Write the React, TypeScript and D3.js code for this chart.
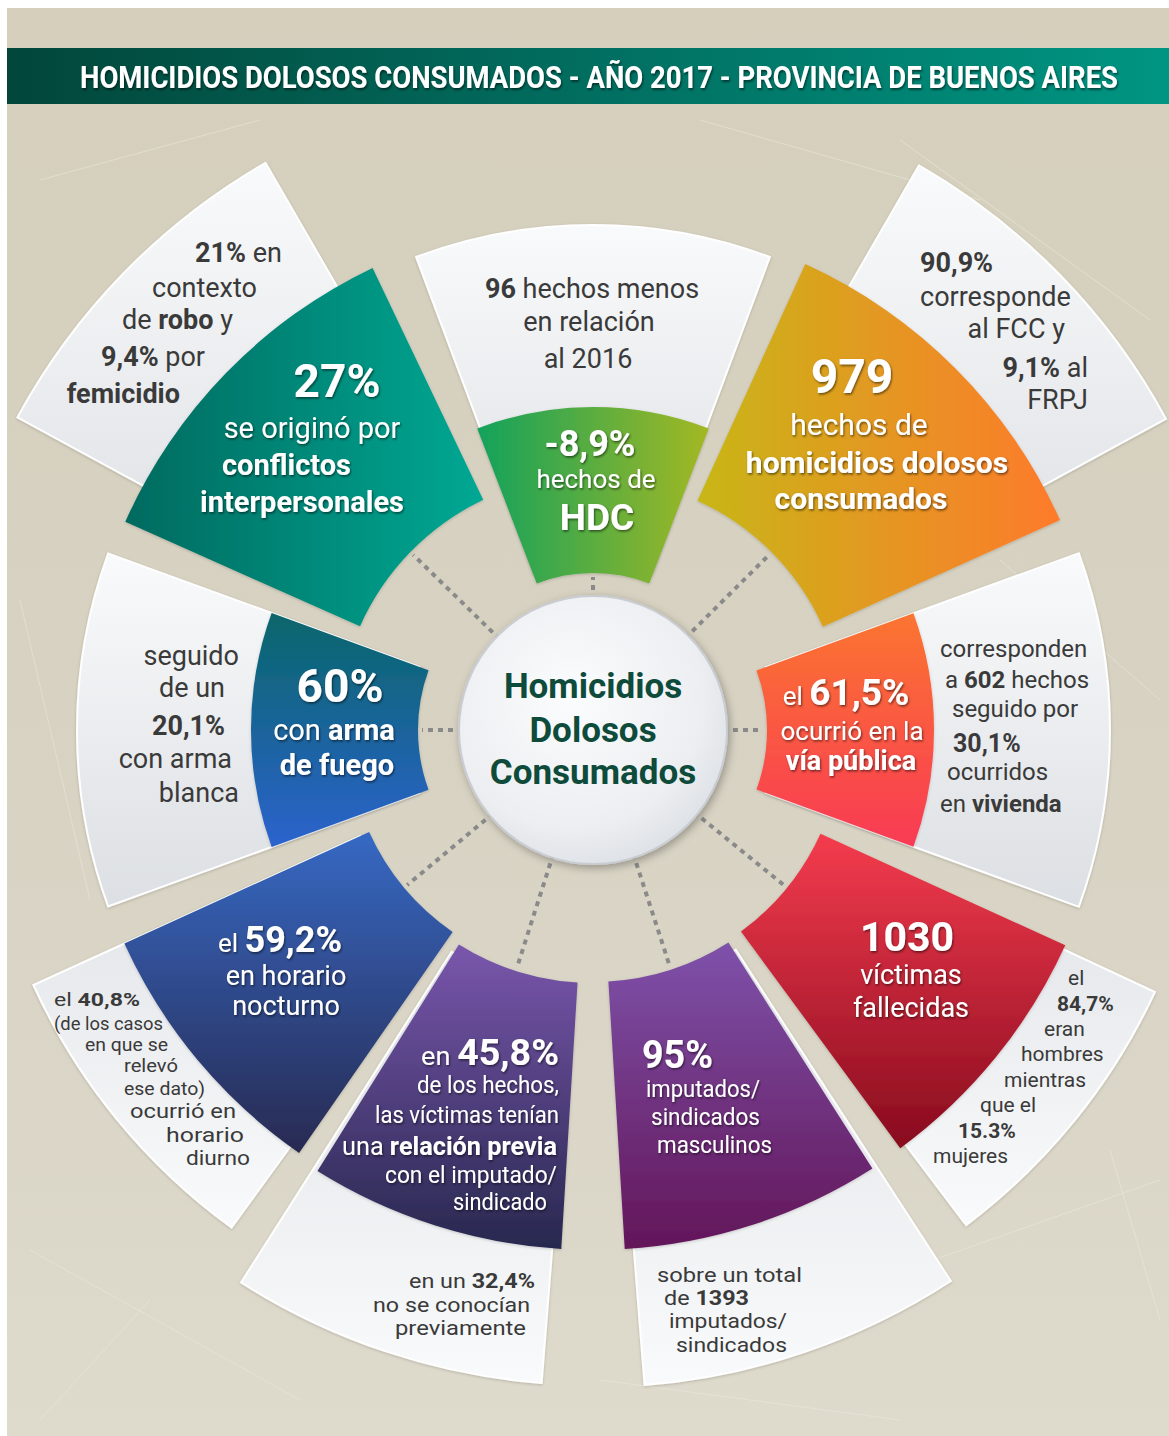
import React from "react";
import * as d3 from "d3";

const W = 1169;
const H = 1436;
const CX = 593;
const CY = 730;

// ---------- content ----------
const TITLE = "HOMICIDIOS DOLOSOS CONSUMADOS - AÑO 2017 - PROVINCIA DE BUENOS AIRES";
const CENTER_LINES = ["Homicidios", "Dolosos", "Consumados"];

type Seg = [string, boolean?, number?];
type Line = Seg[];

const HDC_MAIN: Line[] = [[["-8,9%", true]], [["hechos de"]], [["HDC", true]]];
const HDC_NOTE: Line[] = [[["96", true], [" hechos menos"]], [["en relación"]], [["al 2016"]]];

const TOTAL_MAIN: Line[] = [[["979", true]], [["hechos de"]], [["homicidios dolosos", true]], [["consumados", true]]];
const TOTAL_NOTE: Line[] = [[["90,9%", true]], [["corresponde"]], [["al FCC y"]], [["9,1%", true], [" al"]], [["FRPJ"]]];

const VIA_MAIN: Line[] = [[["el", false, 26], [" "], ["61,5%", true, 37]], [["ocurrió en la"]], [["vía pública", true]]];
const VIA_NOTE: Line[] = [[["corresponden"]], [["a "], ["602", true], [" hechos"]], [["seguido por"]], [["30,1%", true]], [["ocurridos"]], [["en "], ["vivienda", true]]];

const VICTIMAS_MAIN: Line[] = [[["1030", true]], [["víctimas"]], [["fallecidas"]]];
const VICTIMAS_NOTE: Line[] = [[["el"]], [["84,7%", true]], [["eran"]], [["hombres"]], [["mientras"]], [["que el"]], [["15.3%", true]], [["mujeres"]]];

const IMPUTADOS_MAIN: Line[] = [[["95%", true]], [["imputados/"]], [["sindicados"]], [["masculinos"]]];
const IMPUTADOS_NOTE: Line[] = [[["sobre un total"]], [["de "], ["1393", true]], [["imputados/"]], [["sindicados"]]];

const RELACION_MAIN: Line[] = [[["en ", false, 26], ["45,8%", true, 36]], [["de los hechos,"]], [["las víctimas tenían"]], [["una "], ["relación previa", true]], [["con el imputado/"]], [["sindicado"]]];
const RELACION_NOTE: Line[] = [[["en un "], ["32,4%", true]], [["no se conocían"]], [["previamente"]]];

const HORARIO_MAIN: Line[] = [[["el", false, 26], [" "], ["59,2%", true, 36]], [["en horario"]], [["nocturno"]]];
const HORARIO_NOTE: Line[] = [[["el "], ["40,8%", true]], [["(de los casos"]], [["en que se"]], [["relevó"]], [["ese dato)"]], [["ocurrió en"]], [["horario"]], [["diurno"]]];

const ARMA_MAIN: Line[] = [[["60%", true]], [["con "], ["arma", true]], [["de fuego", true]]];
const ARMA_NOTE: Line[] = [[["seguido"]], [["de un"]], [["20,1%", true]], [["con arma"]], [["blanca"]]];

const CONFLICTOS_MAIN: Line[] = [[["27%", true]], [["se originó por"]], [["conflictos", true]], [["interpersonales", true]]];
const CONFLICTOS_NOTE: Line[] = [[["21%", true], [" en"]], [["contexto"]], [["de "], ["robo", true], [" y"]], [["9,4%", true], [" por"]], [["femicidio", true]]];

// ---------- layout ----------
type Geo = { a0: number; a1: number; r0: number; r1: number; wa0: number; wa1: number; wr: number; c0: string; c1: string; horiz: boolean };
const GEOMS: Geo[] = [
  { a0: -21, a1: 21, r0: 157, r1: 323, wa0: -20.5, wa1: 20.5, wr: 505, c0: "#13a25c", c1: "#a3b823", horiz: true },
  { a0: 24.5, a1: 65.8, r0: 252, r1: 512, wa0: 30, wa1: 61.5, wr: 652, c0: "#c8b617", c1: "#fe7a2c", horiz: true },
  { a0: 70, a1: 110, r0: 174, r1: 341, wa0: 70, wa1: 110, wr: 517, c0: "#fb7530", c1: "#f93a55", horiz: false },
  { a0: 114.5, a1: 143.7, r0: 250, r1: 519, wa0: 115, wa1: 143, wr: 620, c0: "#f43c4e", c1: "#880b1e", horiz: false },
  { a0: 147.5, a1: 176.5, r0: 252, r1: 520, wa0: 147, wa1: 175.5, wr: 657, c0: "#7e52aa", c1: "#631659", horiz: false },
  { a0: 183.5, a1: 212, r0: 253, r1: 520, wa0: 184.5, wa1: 212.5, wr: 655, c0: "#7a56ac", c1: "#27284f", horiz: false },
  { a0: 214.8, a1: 245.5, r0: 246, r1: 515, wa0: 216, wa1: 245.5, wr: 615, c0: "#3669c3", c1: "#282a52", horiz: false },
  { a0: 250, a1: 290, r0: 175, r1: 342, wa0: 250, wa1: 290, wr: 516, c0: "#08666a", c1: "#2c63cd", horiz: false },
  { a0: 294, a1: 334.5, r0: 255, r1: 512, wa0: 298.5, wa1: 330, wr: 655, c0: "#006a5f", c1: "#00a893", horiz: true },
];

// [x, baseline, anchor, fontSize, textLength?]
type LL = [number, number, "start" | "middle" | "end", number, number?];
const L_HDC_MAIN: LL[] = [[590, 456, "middle", 36], [596, 488, "middle", 26], [597, 530, "middle", 37]];
const L_HDC_NOTE: LL[] = [[592, 298, "middle", 27], [589, 331, "middle", 27], [588, 368, "middle", 27]];
const L_TOTAL_MAIN: LL[] = [[852, 393, "middle", 48], [859, 435, "middle", 30], [877, 473, "middle", 30], [861, 509, "middle", 30]];
const L_TOTAL_NOTE: LL[] = [[920, 272, "start", 27], [920, 306, "start", 27], [1065, 338, "end", 27], [1088, 377, "end", 27], [1088, 409, "end", 27]];
const L_VIA_MAIN: LL[] = [[846, 705, "middle", 26], [852, 740, "middle", 26], [851, 770, "middle", 27]];
const L_VIA_NOTE: LL[] = [[940, 657, "start", 24], [945, 688, "start", 24], [952, 717, "start", 24], [953, 752, "start", 25], [947, 780, "start", 24], [940, 812, "start", 24]];
const L_VICTIMAS_MAIN: LL[] = [[907, 951, "middle", 41], [911, 984, "middle", 27], [911, 1017, "middle", 27]];
const L_VICTIMAS_NOTE: LL[] = [[1068, 985, "start", 21], [1057, 1011, "start", 21], [1044, 1036, "start", 21], [1021, 1061, "start", 21], [1004, 1087, "start", 21], [980, 1112, "start", 21], [958, 1138, "start", 21], [933, 1163, "start", 21]];
const L_IMPUTADOS_MAIN: LL[] = [[642, 1068, "start", 38, 71], [646, 1097, "start", 24, 114], [651, 1125, "start", 24, 109], [657, 1153, "start", 24, 115]];
const L_IMPUTADOS_NOTE: LL[] = [[657, 1282, "start", 21, 145], [664, 1305, "start", 21, 85], [669, 1328, "start", 21, 118], [676, 1352, "start", 21, 111]];
const L_RELACION_MAIN: LL[] = [[421, 1065, "start", 26, 138], [417, 1093, "start", 24, 142], [375, 1123, "start", 24, 184], [342, 1155, "start", 25, 215], [385, 1183, "start", 24, 172], [453, 1210, "start", 24, 94]];
const L_RELACION_NOTE: LL[] = [[409, 1288, "start", 21, 126], [373, 1312, "start", 21, 157], [395, 1335, "start", 21, 131]];
const L_HORARIO_MAIN: LL[] = [[280, 952, "middle", 26], [286, 985, "middle", 27], [286, 1015, "middle", 27]];
const L_HORARIO_NOTE: LL[] = [[54, 1006, "start", 19, 86], [54, 1030, "start", 18, 109], [85, 1051, "start", 18, 83], [124, 1072, "start", 18, 54], [124, 1095, "start", 18, 81], [130, 1118, "start", 21, 106], [166, 1142, "start", 21, 78], [186, 1165, "start", 21, 64]];
const L_ARMA_MAIN: LL[] = [[340, 702, "middle", 46], [334, 740, "middle", 29], [337, 775, "middle", 29]];
const L_ARMA_NOTE: LL[] = [[239, 665, "end", 27], [225, 697, "end", 27], [225, 735, "end", 27], [232, 768, "end", 27], [239, 802, "end", 27]];
const L_CONFLICTOS_MAIN: LL[] = [[337, 397, "middle", 46], [312, 438, "middle", 29], [222, 475, "start", 29], [302, 512, "middle", 29]];
const L_CONFLICTOS_NOTE: LL[] = [[282, 262, "end", 27], [257, 297, "end", 27], [233, 329, "end", 27], [205, 366, "end", 27], [180, 403, "end", 27]];

const BLOCKS: { lines: Line[]; layout: LL[]; white: boolean }[] = [
  { lines: HDC_MAIN, layout: L_HDC_MAIN, white: true },
  { lines: HDC_NOTE, layout: L_HDC_NOTE, white: false },
  { lines: TOTAL_MAIN, layout: L_TOTAL_MAIN, white: true },
  { lines: TOTAL_NOTE, layout: L_TOTAL_NOTE, white: false },
  { lines: VIA_MAIN, layout: L_VIA_MAIN, white: true },
  { lines: VIA_NOTE, layout: L_VIA_NOTE, white: false },
  { lines: VICTIMAS_MAIN, layout: L_VICTIMAS_MAIN, white: true },
  { lines: VICTIMAS_NOTE, layout: L_VICTIMAS_NOTE, white: false },
  { lines: IMPUTADOS_MAIN, layout: L_IMPUTADOS_MAIN, white: true },
  { lines: IMPUTADOS_NOTE, layout: L_IMPUTADOS_NOTE, white: false },
  { lines: RELACION_MAIN, layout: L_RELACION_MAIN, white: true },
  { lines: RELACION_NOTE, layout: L_RELACION_NOTE, white: false },
  { lines: HORARIO_MAIN, layout: L_HORARIO_MAIN, white: true },
  { lines: HORARIO_NOTE, layout: L_HORARIO_NOTE, white: false },
  { lines: ARMA_MAIN, layout: L_ARMA_MAIN, white: true },
  { lines: ARMA_NOTE, layout: L_ARMA_NOTE, white: false },
  { lines: CONFLICTOS_MAIN, layout: L_CONFLICTOS_MAIN, white: true },
  { lines: CONFLICTOS_NOTE, layout: L_CONFLICTOS_NOTE, white: false },
];

const SCRATCHES: [number, number, number, number][] = [
  [40, 180, 260, 120], [900, 140, 1150, 320], [30, 1250, 300, 1400], [820, 1300, 1160, 1180],
  [1000, 560, 1160, 700], [20, 600, 90, 900], [600, 1380, 900, 1420], [150, 1300, 40, 1420],
  [700, 120, 980, 200], [1110, 1150, 1160, 1320],
];

const FONT = "Roboto, 'Noto Sans', sans-serif";
const rad = (deg: number) => (deg * Math.PI) / 180;

const arc = d3
  .arc<{ a0: number; a1: number; r0: number; r1: number }>()
  .innerRadius((d) => d.r0)
  .outerRadius((d) => d.r1)
  .startAngle((d) => rad(d.a0))
  .endAngle((d) => rad(d.a1));

function TextBlock({ lines, layout, white }: { lines: Line[]; layout: LL[]; white: boolean }) {
  return (
    <g fill={white ? "#ffffff" : "#3a3a3a"} filter={white ? "url(#tshadow)" : undefined}>
      {lines.map((segs, i) => {
        const [x, y, anchor, size, len] = layout[i];
        return (
          <text
            key={i}
            x={x}
            y={y}
            textAnchor={anchor}
            fontSize={size}
            fontFamily={FONT}
            style={{ whiteSpace: "pre" }}
            textLength={len}
            lengthAdjust={len ? "spacingAndGlyphs" : undefined}
          >
            {segs.map((s, j) => (
              <tspan key={j} fontWeight={s[1] ? 700 : 400} fontSize={s[2]}>
                {s[0]}
              </tspan>
            ))}
          </text>
        );
      })}
    </g>
  );
}

export default function App() {
  const rings = d3.range(GEOMS.length);
  return (
    <svg
      width={W}
      height={H}
      viewBox={`0 0 ${W} ${H}`}
      style={{ position: "absolute", left: 0, top: 0, display: "block" }}
    >
      <defs>
        <linearGradient id="bg" x1="0" y1="0" x2="0" y2="1">
          <stop offset="0" stopColor="#d5cfbc" />
          <stop offset="0.5" stopColor="#d7d2c2" />
          <stop offset="1" stopColor="#dedacc" />
        </linearGradient>
        <linearGradient id="titlebar" x1="0" y1="0" x2="1" y2="0">
          <stop offset="0" stopColor="#02463a" />
          <stop offset="0.5" stopColor="#016e60" />
          <stop offset="1" stopColor="#009582" />
        </linearGradient>
        <linearGradient id="wTop" x1="0" y1="0" x2="0" y2="1">
          <stop offset="0" stopColor="#f9fafb" />
          <stop offset="1" stopColor="#dcdfe3" />
        </linearGradient>
        <linearGradient id="wBot" x1="0" y1="0" x2="0" y2="1">
          <stop offset="0" stopColor="#dfe2e6" />
          <stop offset="1" stopColor="#f9fafb" />
        </linearGradient>
        {GEOMS.map((g, i) => (
          <linearGradient key={i} id={`cg${i}`} x1="0" y1="0" x2={g.horiz ? 1 : 0} y2={g.horiz ? 0 : 1}>
            <stop offset="0" stopColor={g.c0} />
            <stop offset="1" stopColor={g.c1} />
          </linearGradient>
        ))}
        <radialGradient id="circ" cx="0.42" cy="0.38" r="0.7">
          <stop offset="0" stopColor="#fbfcfd" />
          <stop offset="0.7" stopColor="#eceef1" />
          <stop offset="1" stopColor="#d9dde2" />
        </radialGradient>
        <filter id="tshadow" x="-10%" y="-20%" width="120%" height="150%">
          <feDropShadow dx="1" dy="1.5" stdDeviation="1" floodColor="#000" floodOpacity="0.55" />
        </filter>
        <filter id="csh" x="-20%" y="-20%" width="140%" height="140%">
          <feDropShadow dx="2" dy="3" stdDeviation="4" floodColor="#000" floodOpacity="0.3" />
        </filter>
        <filter id="psh" x="-10%" y="-10%" width="120%" height="120%">
          <feDropShadow dx="0" dy="1" stdDeviation="1.5" floodColor="#000" floodOpacity="0.18" />
        </filter>
      </defs>

      <rect x={0} y={0} width={W} height={H} fill="#ffffff" />
      <rect x={7} y={8} width={W - 7} height={H - 8} fill="url(#bg)" />
      <g stroke="#ebe7db" strokeWidth={1} opacity={0.6} fill="none">
        {SCRATCHES.map((s, i) => (
          <line key={i} x1={s[0]} y1={s[1]} x2={s[2]} y2={s[3]} />
        ))}
      </g>

      <rect x={7} y={48} width={W - 7} height={56} fill="url(#titlebar)" />
      <text
        transform="translate(80,88) scale(1,1.24)"
        x={0}
        y={0}
        fontFamily={FONT}
        fontWeight={700}
        fontSize={25}
        fill="#ffffff"
        filter="url(#tshadow)"
        textLength={1038}
        lengthAdjust="spacingAndGlyphs"
      >
        {TITLE}
      </text>

      <g transform={`translate(${CX},${CY})`}>
        {/* dashed connectors */}
        <g stroke="#8a8a8a" strokeWidth={4} strokeDasharray="5 5" fill="none">
          {rings.map((i) => {
            const g = GEOMS[i];
            const a = rad((g.a0 + g.a1) / 2);
            const rEnd = g.r0 - 4;
            return <line key={i} x1={Math.sin(a) * 120} y1={-Math.cos(a) * 120} x2={Math.sin(a) * rEnd} y2={-Math.cos(a) * rEnd} />;
          })}
        </g>
        {/* white panels */}
        {rings.map((i) => {
          const g = GEOMS[i];
          const mid = (g.wa0 + g.wa1) / 2;
          const lower = Math.cos(rad(mid)) < -0.3;
          return (
            <path
              key={`w${i}`}
              d={arc({ a0: g.wa0, a1: g.wa1, r0: g.r0 + 10, r1: g.wr }) || ""}
              fill={lower ? "url(#wBot)" : "url(#wTop)"}
              stroke="#ffffff"
              strokeWidth={2}
              filter="url(#psh)"
            />
          );
        })}
        {/* colored sectors */}
        {rings.map((i) => {
          const g = GEOMS[i];
          return <path key={`c${i}`} d={arc({ a0: g.a0, a1: g.a1, r0: g.r0, r1: g.r1 }) || ""} fill={`url(#cg${i})`} filter="url(#psh)" />;
        })}
        {/* center */}
        <circle r={134} fill="url(#circ)" stroke="#c9cdd3" strokeWidth={2} filter="url(#csh)" />
      </g>

      <g fill="#0e4b3b" fontFamily={FONT} fontWeight={700} fontSize={35} textAnchor="middle">
        {CENTER_LINES.map((t, i) => (
          <text key={i} x={CX} y={[698, 742, 784][i]}>
            {t}
          </text>
        ))}
      </g>

      {BLOCKS.map((b, i) => (
        <TextBlock key={i} lines={b.lines} layout={b.layout} white={b.white} />
      ))}
    </svg>
  );
}
